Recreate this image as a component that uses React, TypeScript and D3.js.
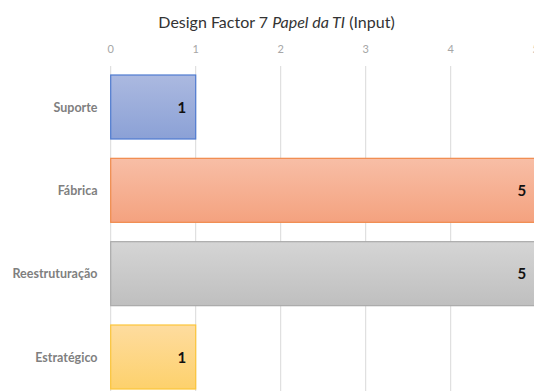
import React from "react";
import * as d3 from "d3";

const categories = ["Suporte", "Fábrica", "Reestruturação", "Estratégico"];
const values = [1, 5, 5, 1];
const tickValues = [0, 1, 2, 3, 4, 5];

const fills = [
  { top: "#abb9e0", bottom: "#8ba1d6", stroke: "#4f7bd0" },
  { top: "#f8bea6", bottom: "#f4a27f", stroke: "#f08a4b" },
  { top: "#d5d5d5", bottom: "#bfbfbf", stroke: "#aaaaaa" },
  { top: "#fedc9f", bottom: "#fdd16c", stroke: "#fcc53a" },
];

const W = 534;
const H = 391;
const font = "Lato, 'Open Sans', sans-serif";

export default function App() {
  const x = d3.scaleLinear().domain([0, 5]).range([110.7, 535.7]);
  const y = d3
    .scaleBand<string>()
    .domain(categories)
    .range([66, 398])
    .paddingInner(0.232)
    .paddingOuter(0.108);

  return (
    <svg
      width={W}
      height={H}
      style={{ position: "absolute", left: 0, top: 0, background: "#fff" }}
    >
      <defs>
        {fills.map((f, i) => (
          <linearGradient key={i} id={`g${i}`} x1="0" y1="0" x2="0" y2="1">
            <stop offset="0%" stopColor={f.top} />
            <stop offset="100%" stopColor={f.bottom} />
          </linearGradient>
        ))}
      </defs>
      <rect width={W} height={H} fill="#fff" />
      <text
        x={276.5}
        y={28}
        textAnchor="middle"
        fontFamily={font}
        fontSize={16}
        fill="#333"
      >
        Design Factor 7 <tspan fontStyle="italic">Papel da TI</tspan> (Input)
      </text>
      {tickValues.map((t) => (
        <g key={t}>
          <line
            x1={x(t)}
            x2={x(t)}
            y1={66}
            y2={H}
            stroke="#d9d9d9"
            strokeWidth={1}
          />
          <text
            x={x(t)}
            y={53}
            textAnchor="middle"
            fontFamily={font}
            fontSize={11}
            fill="#a6a6a6"
          >
            {t}
          </text>
        </g>
      ))}
      {categories.map((c, i) => {
        const y0 = y(c)!;
        const bw = y.bandwidth();
        return (
          <g key={c}>
            <rect
              x={x(0)}
              y={y0}
              width={x(values[i]) - x(0)}
              height={bw}
              fill={`url(#g${i})`}
              stroke={fills[i].stroke}
              strokeWidth={1.2}
            />
            <text
              x={x(values[i]) - 9.5}
              y={y0 + bw / 2 + 5.5}
              textAnchor="end"
              fontFamily={font}
              fontSize={15}
              fontWeight="bold"
              fill="#111"
            >
              {values[i]}
            </text>
            <text
              x={97.5}
              y={y0 + bw / 2 + 4.5}
              textAnchor="end"
              fontFamily={font}
              fontSize={12.5}
              fontWeight="bold"
              fill="#7f7f7f"
            >
              {c}
            </text>
          </g>
        );
      })}
    </svg>
  );
}
